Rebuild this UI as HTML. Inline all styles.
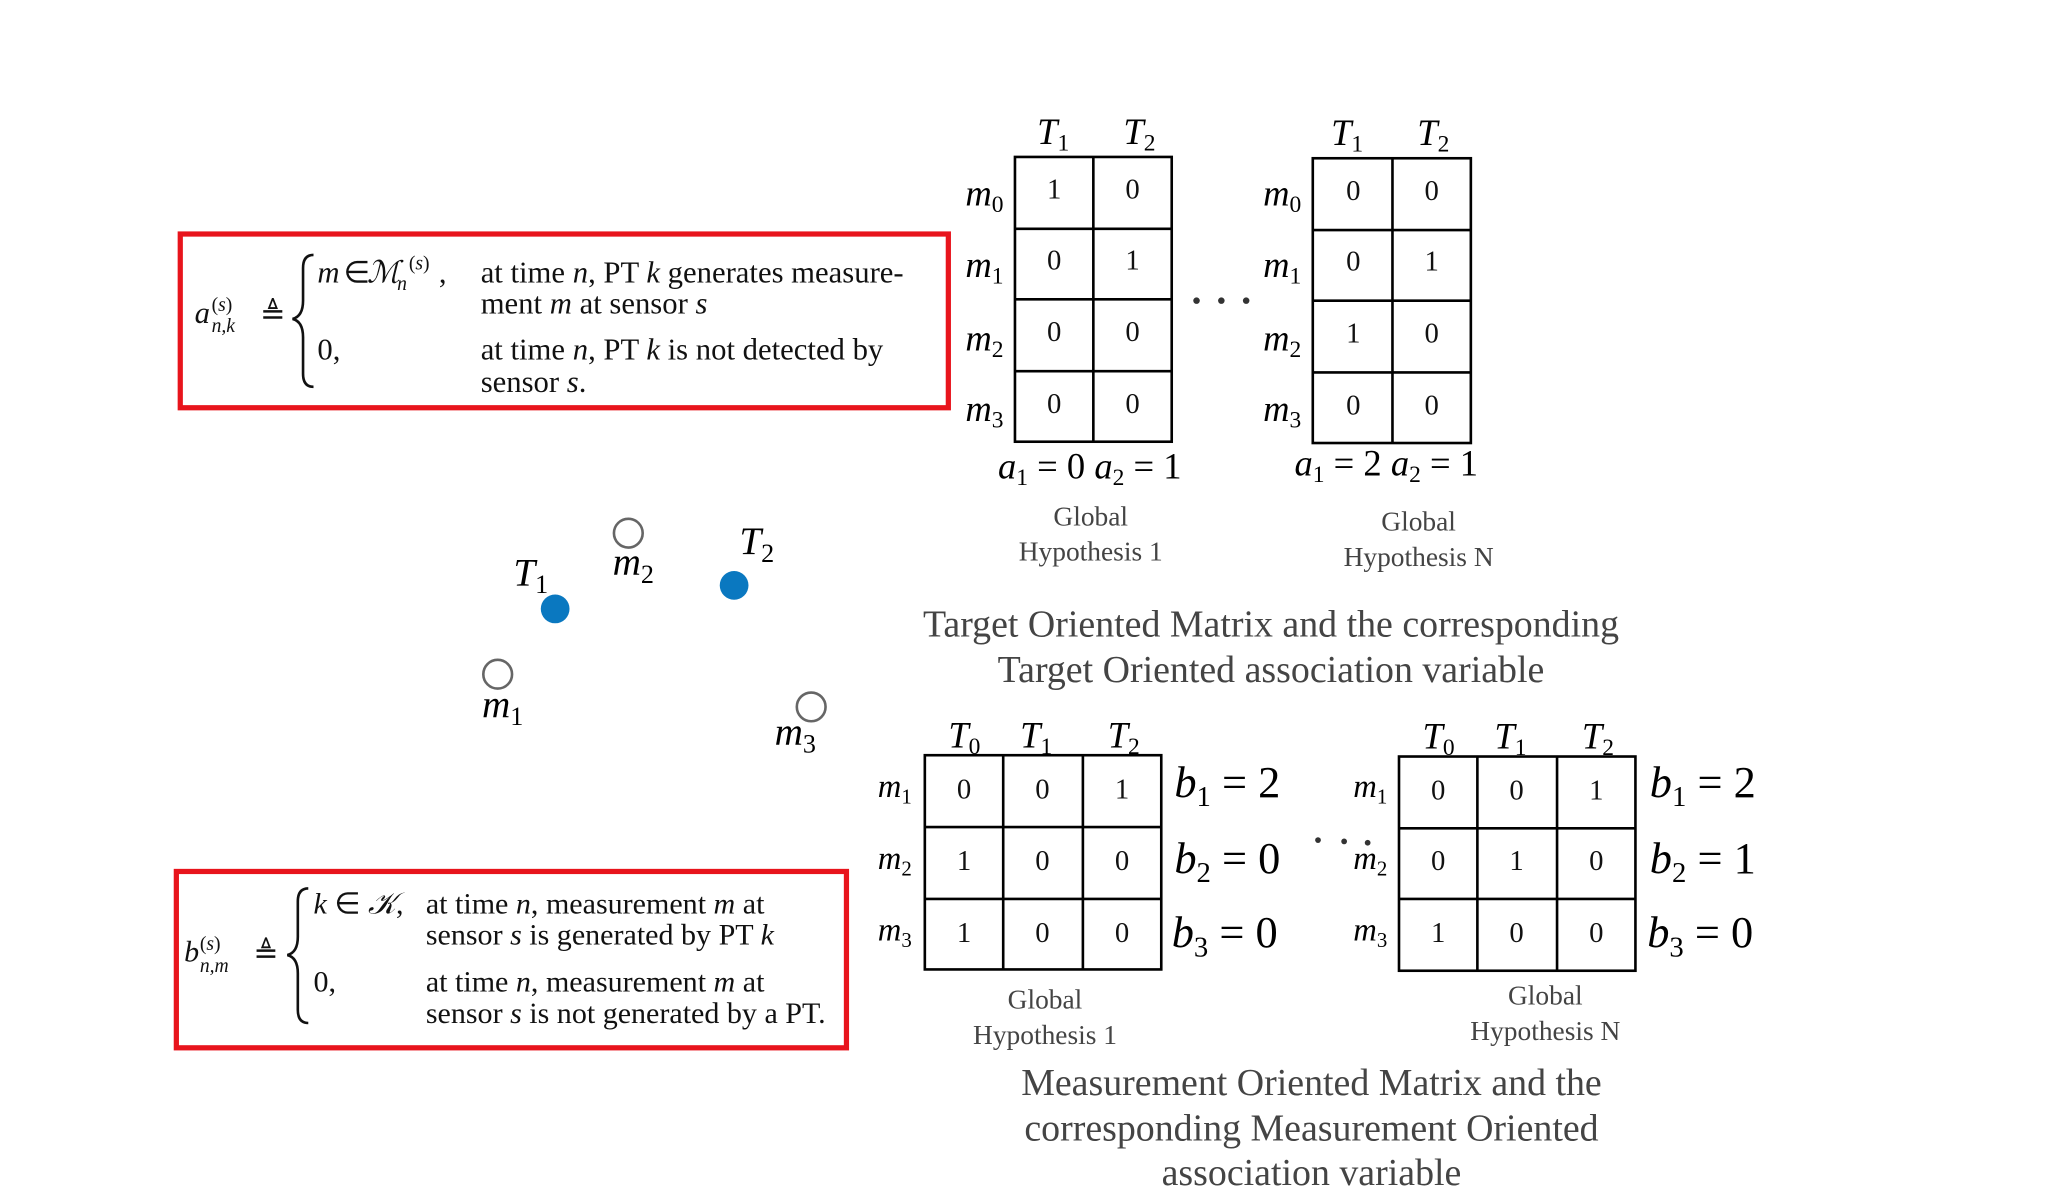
<!DOCTYPE html>
<html><head><meta charset="utf-8"><style>html,body{margin:0;padding:0;background:#fff}svg{display:block}</style></head>
<body>
<svg width="2048" height="1199" viewBox="0 0 1560 913" xmlns="http://www.w3.org/2000/svg" font-family="'Liberation Serif', serif">
<rect width="1560" height="913" fill="#fff"/>
<g transform="scale(0.995)">
<!-- Box A -->
<rect x="138" y="179" width="588" height="133" fill="none" stroke="#e8141c" stroke-width="4"/>
<g font-size="23.5" fill="#111">
<text x="149" y="247" font-style="italic">a</text>
<text x="162" y="238" font-size="15">(<tspan font-style="italic">s</tspan>)</text>
<text x="162" y="254" font-size="15" font-style="italic">n,k</text>
<text x="199" y="248">≜</text>
<path d="M240 195 q-8 0 -8 10 v25 q0 12 -8 14 q8 2 8 14 v28 q0 10 8 10" fill="none" stroke="#111" stroke-width="2"/>
<text x="243" y="216" font-style="italic">m</text><text x="263" y="216">∈</text><text x="281" y="216" font-style="italic">ℳ</text>
<text x="304" y="222" font-size="15" font-style="italic">n</text><text x="313" y="206" font-size="15">(<tspan font-style="italic">s</tspan>)</text><text x="336" y="216">,</text>
<text x="368" y="216">at time <tspan font-style="italic">n</tspan>, PT <tspan font-style="italic">k</tspan> generates measure-</text>
<text x="368" y="240">ment <tspan font-style="italic">m</tspan> at sensor <tspan font-style="italic">s</tspan></text>
<text x="243" y="275">0,</text>
<text x="368" y="275">at time <tspan font-style="italic">n</tspan>, PT <tspan font-style="italic">k</tspan> is not detected by</text>
<text x="368" y="300">sensor <tspan font-style="italic">s</tspan>.</text>
</g>
<!-- Box B -->
<rect x="135" y="667" width="513" height="135" fill="none" stroke="#e8141c" stroke-width="4"/>
<g font-size="23" fill="#111">
<text x="141" y="736" font-style="italic">b</text>
<text x="153" y="727" font-size="15">(<tspan font-style="italic">s</tspan>)</text>
<text x="153" y="744" font-size="15" font-style="italic">n,m</text>
<text x="194" y="737">≜</text>
<path d="M236 680 q-8 0 -8 10 v27 q0 12 -8 14 q8 2 8 14 v28 q0 10 8 10" fill="none" stroke="#111" stroke-width="2"/>
<text x="240" y="699"><tspan font-style="italic">k</tspan> ∈ <tspan font-style="italic">𝒦</tspan>,</text>
<text x="326" y="699">at time <tspan font-style="italic">n</tspan>, measurement <tspan font-style="italic">m</tspan> at</text>
<text x="326" y="723">sensor <tspan font-style="italic">s</tspan> is generated by PT <tspan font-style="italic">k</tspan></text>
<text x="240" y="759">0,</text>
<text x="326" y="759">at time <tspan font-style="italic">n</tspan>, measurement <tspan font-style="italic">m</tspan> at</text>
<text x="326" y="783">sensor <tspan font-style="italic">s</tspan> is not generated by a PT.</text>
</g>
<!-- scatter -->
<g fill="#000" font-size="30" font-style="italic">
<circle cx="425" cy="466" r="11" fill="#0a78c0"/>
<circle cx="562" cy="448" r="11" fill="#0a78c0"/>
<circle cx="481" cy="408" r="11" fill="none" stroke="#666" stroke-width="2"/>
<circle cx="381" cy="516" r="11" fill="none" stroke="#666" stroke-width="2"/>
<circle cx="621" cy="541" r="11" fill="none" stroke="#666" stroke-width="2"/>
<text x="393" y="448">T<tspan font-size="20" font-style="normal" dy="6">1</tspan></text>
<text x="566" y="424">T<tspan font-size="20" font-style="normal" dy="6">2</tspan></text>
<text x="469" y="440">m<tspan font-size="20" font-style="normal" dy="6">2</tspan></text>
<text x="369" y="549">m<tspan font-size="20" font-style="normal" dy="6">1</tspan></text>
<text x="593" y="570">m<tspan font-size="20" font-style="normal" dy="6">3</tspan></text>
</g>
<!-- top matrices -->
<g stroke="#000" stroke-width="2" fill="none">
<rect x="777" y="120" width="120" height="218"/>
<line x1="837" y1="120" x2="837" y2="338"/>
<line x1="777" y1="175" x2="897" y2="175"/><line x1="777" y1="229" x2="897" y2="229"/><line x1="777" y1="284" x2="897" y2="284"/>
<rect x="1005" y="121" width="121" height="218"/>
<line x1="1066" y1="121" x2="1066" y2="339"/>
<line x1="1005" y1="176" x2="1126" y2="176"/><line x1="1005" y1="230" x2="1126" y2="230"/><line x1="1005" y1="285" x2="1126" y2="285"/>
</g>
<g font-size="22" text-anchor="middle" fill="#111">
<text x="807" y="152">1</text><text x="867" y="152">0</text>
<text x="807" y="206">0</text><text x="867" y="206">1</text>
<text x="807" y="261">0</text><text x="867" y="261">0</text>
<text x="807" y="316">0</text><text x="867" y="316">0</text>
<text x="1036" y="153">0</text><text x="1096" y="153">0</text>
<text x="1036" y="207">0</text><text x="1096" y="207">1</text>
<text x="1036" y="262">1</text><text x="1096" y="262">0</text>
<text x="1036" y="317">0</text><text x="1096" y="317">0</text>
</g>
<g font-size="28" font-style="italic" fill="#000">
<text x="794" y="110">T<tspan font-size="18" font-style="normal" dy="5">1</tspan></text>
<text x="860" y="110">T<tspan font-size="18" font-style="normal" dy="5">2</tspan></text>
<text x="1019" y="111">T<tspan font-size="18" font-style="normal" dy="5">1</tspan></text>
<text x="1085" y="111">T<tspan font-size="18" font-style="normal" dy="5">2</tspan></text>
<text x="739" y="157">m<tspan font-size="18" font-style="normal" dy="5">0</tspan></text>
<text x="739" y="212">m<tspan font-size="18" font-style="normal" dy="5">1</tspan></text>
<text x="739" y="268">m<tspan font-size="18" font-style="normal" dy="5">2</tspan></text>
<text x="739" y="322">m<tspan font-size="18" font-style="normal" dy="5">3</tspan></text>
<text x="967" y="157">m<tspan font-size="18" font-style="normal" dy="5">0</tspan></text>
<text x="967" y="212">m<tspan font-size="18" font-style="normal" dy="5">1</tspan></text>
<text x="967" y="268">m<tspan font-size="18" font-style="normal" dy="5">2</tspan></text>
<text x="967" y="322">m<tspan font-size="18" font-style="normal" dy="5">3</tspan></text>
<text x="764" y="366">a<tspan font-size="18" font-style="normal" dy="5">1</tspan><tspan font-style="normal" dy="-5"> = 0 </tspan>a<tspan font-size="18" font-style="normal" dy="5">2</tspan><tspan font-style="normal" dy="-5"> = 1</tspan></text>
<text x="991" y="364">a<tspan font-size="18" font-style="normal" dy="5">1</tspan><tspan font-style="normal" dy="-5"> = 2 </tspan>a<tspan font-size="18" font-style="normal" dy="5">2</tspan><tspan font-style="normal" dy="-5"> = 1</tspan></text>
</g>
<g fill="#333"><circle cx="916" cy="230" r="2.5"/><circle cx="935" cy="230" r="2.5"/><circle cx="954" cy="230" r="2.5"/></g>
<g font-size="21" fill="#444" text-anchor="middle">
<text x="835" y="402">Global</text><text x="835" y="429">Hypothesis 1</text>
<text x="1086" y="406">Global</text><text x="1086" y="433">Hypothesis N</text>
<text x="800" y="772">Global</text><text x="800" y="799">Hypothesis 1</text>
<text x="1183" y="769">Global</text><text x="1183" y="796">Hypothesis N</text>
</g>
<g font-size="29" fill="#444" text-anchor="middle">
<text x="973" y="487">Target Oriented Matrix and the corresponding</text>
<text x="973" y="522">Target Oriented association variable</text>
<text x="1004" y="838">Measurement Oriented Matrix and the</text>
<text x="1004" y="873">corresponding Measurement Oriented</text>
<text x="1004" y="907">association variable</text>
</g>
<!-- bottom matrices -->
<g stroke="#000" stroke-width="2" fill="none">
<rect x="708" y="578" width="181" height="164"/>
<line x1="768" y1="578" x2="768" y2="742"/><line x1="829" y1="578" x2="829" y2="742"/>
<line x1="708" y1="633" x2="889" y2="633"/><line x1="708" y1="688" x2="889" y2="688"/>
<rect x="1071" y="579" width="181" height="164"/>
<line x1="1131" y1="579" x2="1131" y2="743"/><line x1="1192" y1="579" x2="1192" y2="743"/>
<line x1="1071" y1="634" x2="1252" y2="634"/><line x1="1071" y1="688" x2="1252" y2="688"/>
</g>
<g font-size="22" text-anchor="middle" fill="#111">
<text x="738" y="611">0</text><text x="798" y="611">0</text><text x="859" y="611">1</text>
<text x="738" y="666">1</text><text x="798" y="666">0</text><text x="859" y="666">0</text>
<text x="738" y="721">1</text><text x="798" y="721">0</text><text x="859" y="721">0</text>
<text x="1101" y="612">0</text><text x="1161" y="612">0</text><text x="1222" y="612">1</text>
<text x="1101" y="666">0</text><text x="1161" y="666">1</text><text x="1222" y="666">0</text>
<text x="1101" y="721">1</text><text x="1161" y="721">0</text><text x="1222" y="721">0</text>
</g>
<g font-size="28" font-style="italic" fill="#000">
<text x="726" y="572">T<tspan font-size="18" font-style="normal" dy="5">0</tspan></text>
<text x="781" y="572">T<tspan font-size="18" font-style="normal" dy="5">1</tspan></text>
<text x="848" y="572">T<tspan font-size="18" font-style="normal" dy="5">2</tspan></text>
<text x="1089" y="573">T<tspan font-size="18" font-style="normal" dy="5">0</tspan></text>
<text x="1144" y="573">T<tspan font-size="18" font-style="normal" dy="5">1</tspan></text>
<text x="1211" y="573">T<tspan font-size="18" font-style="normal" dy="5">2</tspan></text>
<text x="672" y="610" font-size="25">m<tspan font-size="16" font-style="normal" dy="5">1</tspan></text>
<text x="672" y="665" font-size="25">m<tspan font-size="16" font-style="normal" dy="5">2</tspan></text>
<text x="672" y="720" font-size="25">m<tspan font-size="16" font-style="normal" dy="5">3</tspan></text>
<text x="1036" y="610" font-size="25">m<tspan font-size="16" font-style="normal" dy="5">1</tspan></text>
<text x="1036" y="665" font-size="25">m<tspan font-size="16" font-style="normal" dy="5">2</tspan></text>
<text x="1036" y="720" font-size="25">m<tspan font-size="16" font-style="normal" dy="5">3</tspan></text>
</g>
<g font-size="34" font-style="italic" fill="#000">
<text x="899" y="610">b<tspan font-size="22" font-style="normal" dy="7">1</tspan><tspan font-style="normal" dy="-7"> = 2</tspan></text>
<text x="899" y="668">b<tspan font-size="22" font-style="normal" dy="7">2</tspan><tspan font-style="normal" dy="-7"> = 0</tspan></text>
<text x="897" y="725">b<tspan font-size="22" font-style="normal" dy="7">3</tspan><tspan font-style="normal" dy="-7"> = 0</tspan></text>
<text x="1263" y="610">b<tspan font-size="22" font-style="normal" dy="7">1</tspan><tspan font-style="normal" dy="-7"> = 2</tspan></text>
<text x="1263" y="668">b<tspan font-size="22" font-style="normal" dy="7">2</tspan><tspan font-style="normal" dy="-7"> = 1</tspan></text>
<text x="1261" y="725">b<tspan font-size="22" font-style="normal" dy="7">3</tspan><tspan font-style="normal" dy="-7"> = 0</tspan></text>
</g>
<g fill="#333"><circle cx="1009" cy="643" r="2.2"/><circle cx="1029" cy="644" r="2.2"/><circle cx="1047" cy="645" r="2.2"/></g>
</g>
</svg>
</body></html>
